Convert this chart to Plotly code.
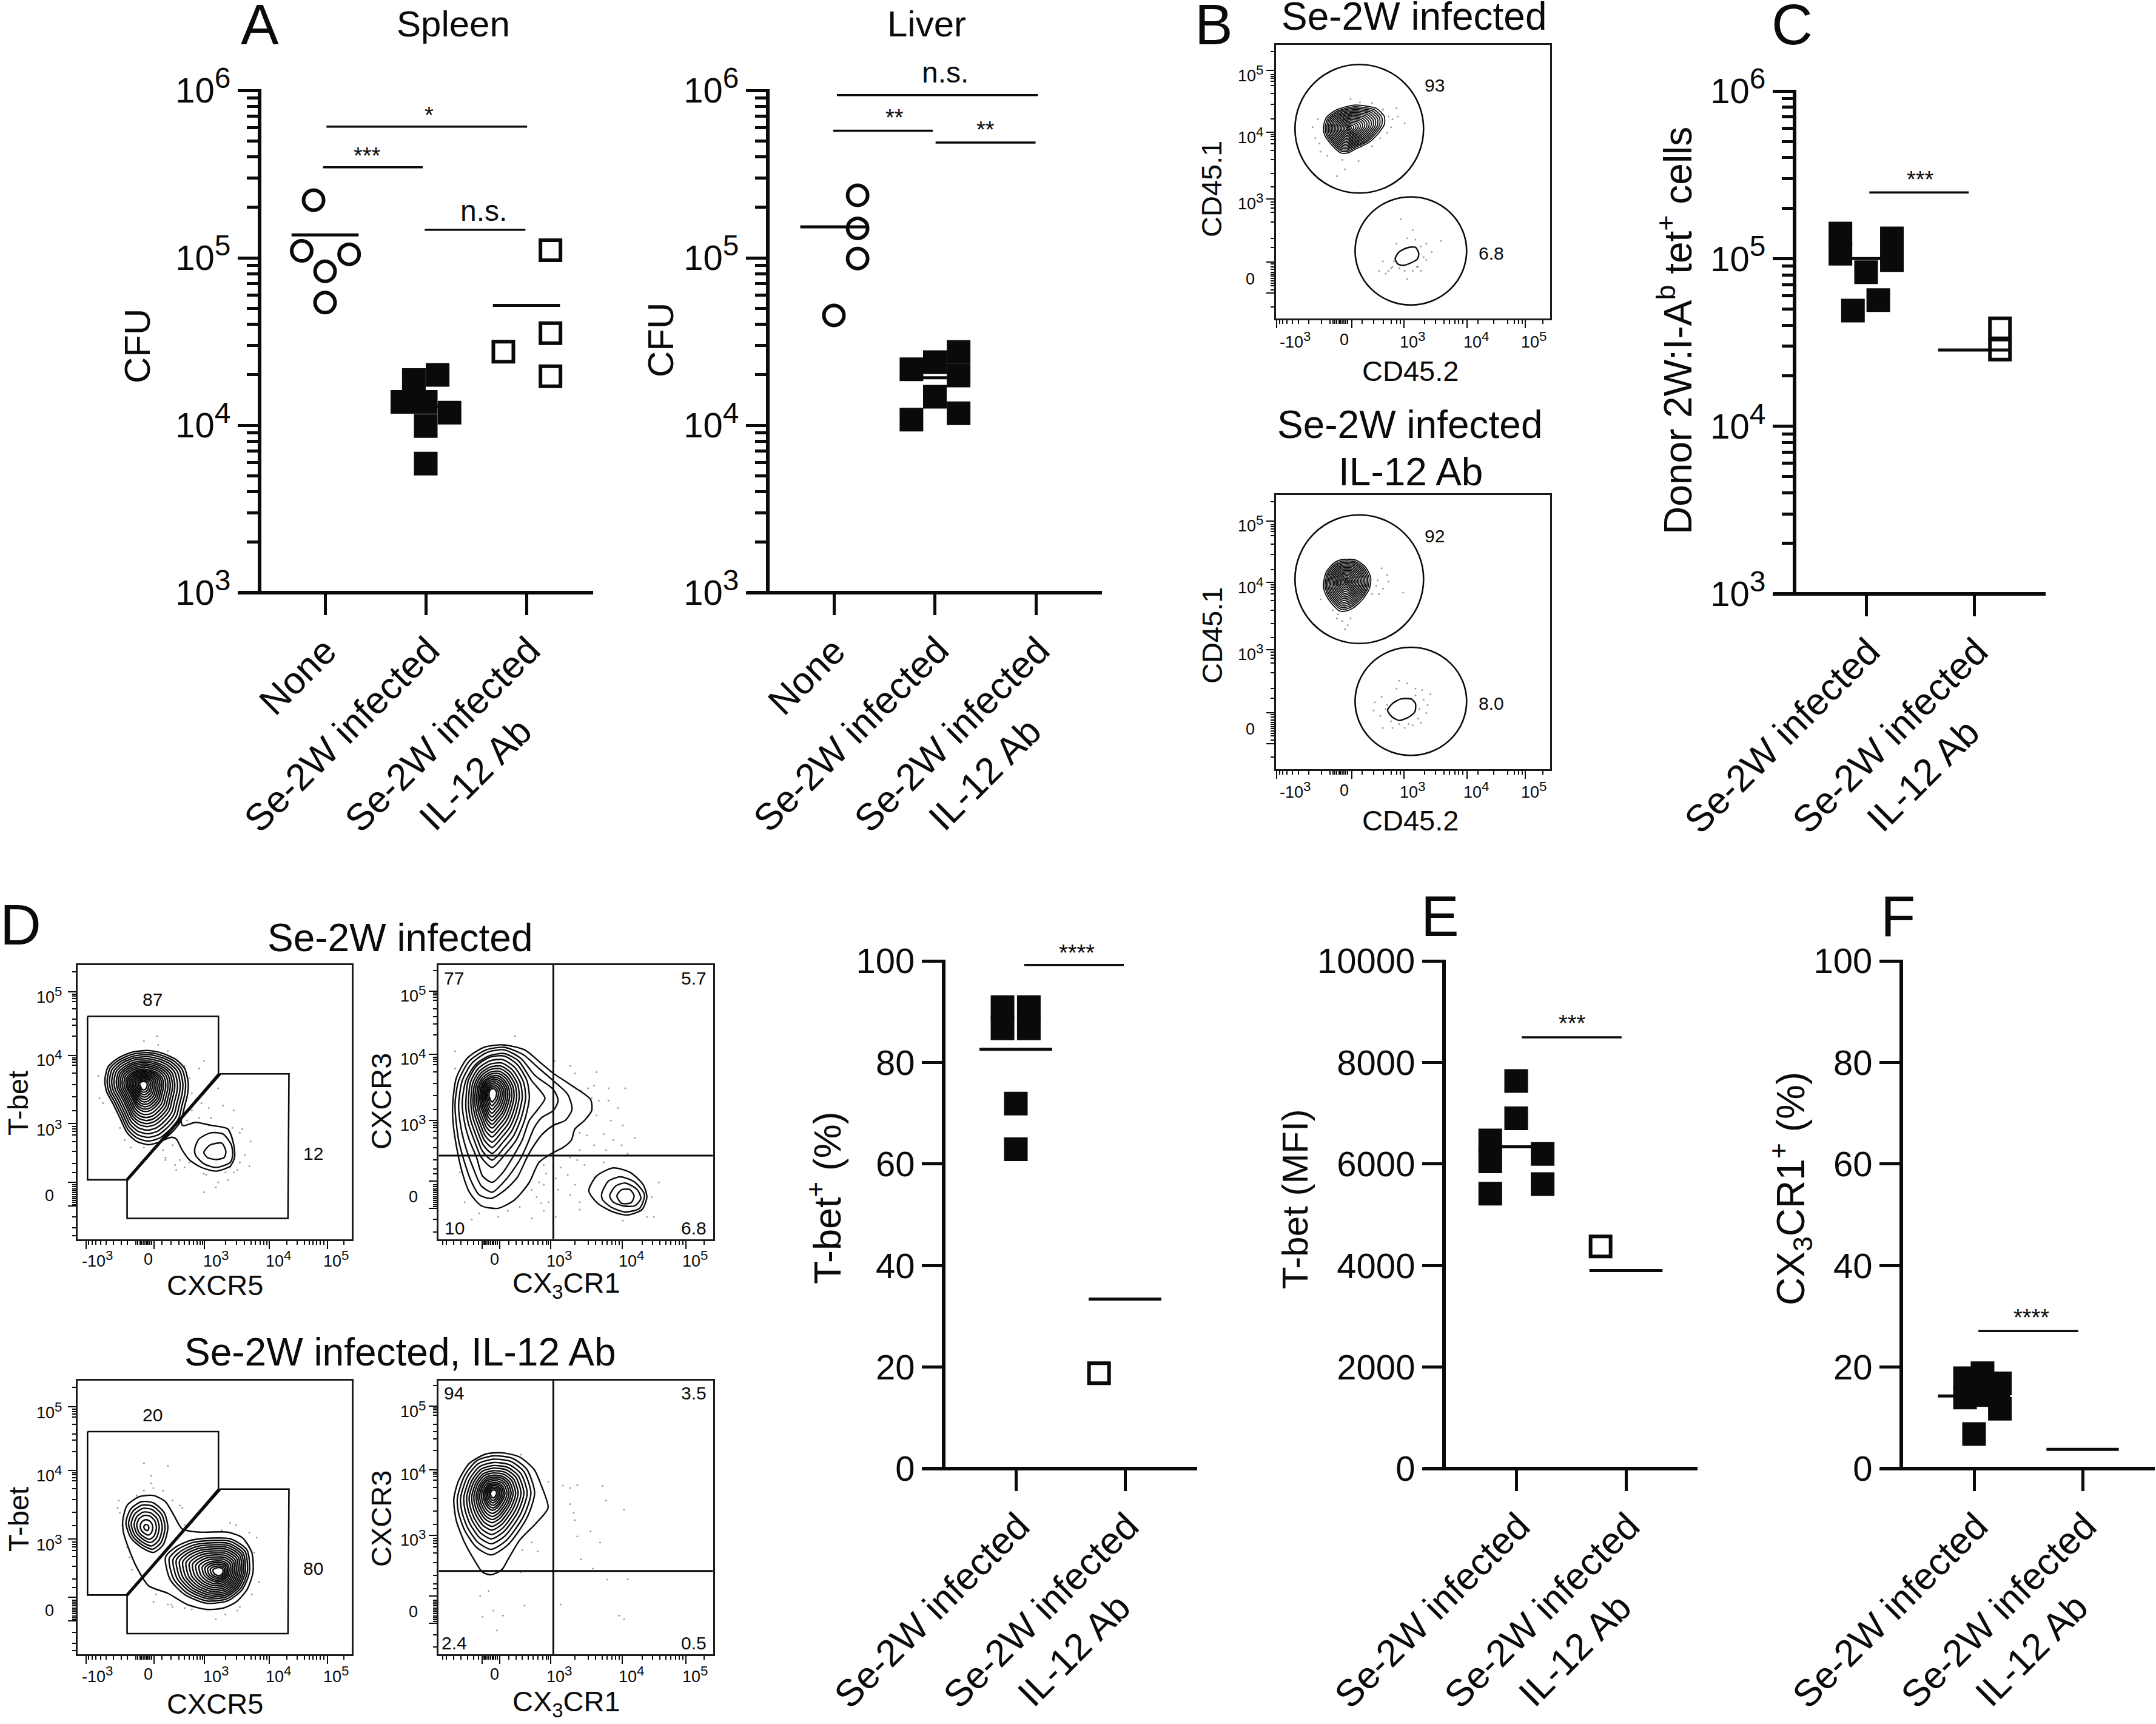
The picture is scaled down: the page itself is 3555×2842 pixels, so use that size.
import plotly.graph_objects as go

W, H = 3555, 2842
FONT = "Liberation Sans"


def SUP(s):
    return f'<sup><span style="font-size:118%">{s}</span></sup>'


# ---------- swarm panels: data (x = category index + read horizontal offset) ----------
SE = "Se-2W infected"
IL = "IL-12 Ab"

SPLEEN_NONE_X = [-0.114, -0.232, 0.239, 0, 0]
SPLEEN_NONE_Y = [2.21e5, 1.10e5, 1.05e5, 8.3e4, 5.4e4]
SPLEEN_SE_X = [0.882, 1.118, 0.768, 1, 1.236, 1, 1]
SPLEEN_SE_Y = [1.86e4, 2.0e4, 1.38e4, 1.38e4, 1.19e4, 9.9e3, 5.9e3]
SPLEEN_IL_X = [1.771, 2.239, 2.239, 2.239]
SPLEEN_IL_Y = [2.75e4, 1.11e5, 3.55e4, 1.96e4]
SPLEEN_MEANS = [1.37e5, 1.3e4, 5.2e4]
SPLEEN_BARS = [(0.014, 2.007, 6.08e5), (-0.02, 0.97, 3.47e5), (0.99, 1.99, 1.47e5)]

LIVER_NONE_X = [0.235, 0.235, 0.235, 0]
LIVER_NONE_Y = [2.36e5, 1.50e5, 9.9e4, 4.53e4]
LIVER_SE_X = [0.768, 1, 1.235, 1.235, 1, 1.235, 0.768]
LIVER_SE_Y = [2.16e4, 2.38e4, 2.74e4, 1.98e4, 1.48e4, 1.18e4, 1.08e4]
LIVER_MEANS = [1.53e5, 1.92e4]
LIVER_BARS = [(0.03, 2.02, 9.37e5), (-0.007, 0.98, 5.74e5), (1.007, 1.997, 4.88e5)]

C_SE_X = [-0.238, -0.238, 0.239, 0.239, 0, 0.113, -0.122]
C_SE_Y = [1.41e5, 1.07e5, 1.32e5, 9.8e4, 8.3e4, 5.65e4, 4.9e4]
C_IL_X = [1.24, 1.24]
C_IL_Y = [3.84e4, 2.87e4]
C_MEANS = [1.0e5, 2.85e4]
C_BARS = [(0.03, 0.95, 2.48e5)]

TBET_SE_X = [-0.122, 0.119, -0.122, 0.119, 0, 0]
TBET_SE_Y = [90.9, 90.9, 86.7, 86.7, 71.9, 62.9]
TBET_IL_X = [0.762]
TBET_IL_Y = [18.8]
TBET_MEANS = [82.6, 33.4]
TBET_BARS = [(0.076, 0.99, 99.2)]

MFI_SE_X = [-0.236, -0.236, -0.236, 0, 0, 0.241, 0.241]
MFI_SE_Y = [6465, 6050, 5416, 7634, 6901, 6198, 5604]
MFI_IL_X = [0.769]
MFI_IL_Y = [4376]
MFI_MEANS = [6337, 3901]
MFI_BARS = [(0.05, 0.96, 8495)]

CX_SE_X = [-0.083, -0.083, 0.078, 0.238, 0.238, 0, 0.078]
CX_SE_Y = [17.8, 14.0, 18.8, 16.8, 11.8, 6.8, 14.5]
CX_MEANS = [14.3, 3.8]
CX_BARS = [(0.04, 0.96, 27.1)]

LOG_TICKS = [1e3, 1e4, 1e5, 1e6]
LOG_TEXT = ["10" + SUP(3), "10" + SUP(4), "10" + SUP(5), "10" + SUP(6)]
LOG_MINOR = [2e3, 3e3, 4e3, 5e3, 6e3, 7e3, 8e3, 9e3, 2e4, 3e4, 4e4, 5e4, 6e4, 7e4, 8e4, 9e4,
             2e5, 3e5, 4e5, 5e5, 6e5, 7e5, 8e5, 9e5]
PCT_TICKS = [0, 20, 40, 60, 80, 100]
MFI_TICKS = [0, 2000, 4000, 6000, 8000, 10000]

# ---------- flow panels: values read in the channel units of each crop ----------
B_X_MAJOR = [348, 625, 818, 1050, 1265]
B_X_MINOR = [358, 370, 385, 405, 427, 465, 513, 545, 555, 563, 570, 577, 583, 590, 596, 603, 610, 662, 705, 742, 770, 790, 805,
             893, 935, 965, 985, 1005, 1020, 1035, 1090, 1150, 1200, 1225, 1240, 1255, 1330]
B_Y_MAJOR = [260, 488, 735, 968, 1083]
B_Y_MINOR = [190, 275, 282, 290, 300, 315, 345, 385, 440, 497, 505, 515, 530, 555, 590, 640, 690, 745, 755, 768, 785, 820, 880, 915,
             975, 985, 995, 1005, 1012, 1020, 1028, 1036, 1045, 1055, 1070, 1133]
D1_X_MAJOR = [358, 643, 853, 1122, 1365]
D1_X_MINOR = [370, 385, 400, 420, 443, 472, 505, 530, 567, 575, 583, 590, 597, 604, 611, 618, 625, 632, 675, 712, 745, 770, 790, 808, 822,
              835, 845, 940, 987, 1020, 1047, 1065, 1085, 1100, 1112, 1195, 1240, 1270, 1290, 1305, 1320, 1335, 1350, 1435]
D1_Y_MAJOR = [330, 587, 863, 1100, 1195]
D1_Y_MINOR = [250, 340, 348, 358, 370, 400, 440, 465, 510, 597, 605, 615, 628, 660, 705, 755, 810, 875, 885, 895, 910, 935, 975, 1025, 1060,
              1110, 1118, 1126, 1134, 1142, 1150, 1158, 1166, 1174, 1182, 1190, 1240, 1285, 1315]
D2_X_MAJOR = [493, 567, 780, 1078, 1342]
D2_X_MINOR = [330, 345, 375, 405, 432, 458, 478, 500, 507, 514, 521, 528, 535, 542, 549, 556, 605, 635, 660, 685, 705, 725, 745, 760, 770,
              880, 935, 965, 995, 1015, 1035, 1050, 1065, 1160, 1205, 1235, 1260, 1280, 1300, 1315, 1330, 1420]
D2_Y_MAJOR = [328, 584, 850, 1095, 1205]
D2_Y_MINOR = [245, 335, 342, 352, 365, 400, 430, 460, 505, 595, 602, 612, 625, 655, 700, 750, 805, 860, 870, 880, 895, 920, 960, 1010, 1045, 1065,
              1110, 1118, 1126, 1134, 1142, 1150, 1158, 1166, 1174, 1182, 1190, 1198, 1250, 1300]

TICK_TEXT_X = ["-10" + SUP(3), "0", "10" + SUP(3), "10" + SUP(4), "10" + SUP(5)]
TICK_TEXT_X2 = ["0", "10" + SUP(3), "10" + SUP(4), "10" + SUP(5)]
TICK_TEXT_Y = ["10" + SUP(5), "10" + SUP(4), "10" + SUP(3), "0"]

# outline of the outer contour, peak of the population and relative contour levels
B1_MAIN = [(520, 470), (530, 435), (560, 410), (600, 395), (640, 388), (680, 392), (715, 400), (745, 430), (745, 460), (725, 490),
           (690, 525), (640, 550), (610, 565), (585, 565), (555, 540), (525, 500)]
B1_PEAK = (612, 475)
B_LEVELS = [1, .93, .87, .81, .75, .69, .63, .57, .51, .45, .39, .33, .27, .21, .15, .09, .04]
B1_MINOR = [(785, 955), (800, 930), (830, 915), (860, 913), (872, 935), (868, 955), (845, 970), (815, 980), (795, 975)]
B1_DOTS = [(740, 405), (760, 430), (795, 430), (770, 470), (820, 455), (500, 440), (490, 510), (510, 560), (590, 590), (600, 625), (570, 650),
           (730, 510), (700, 540), (650, 595), (620, 365), (655, 378), (790, 400), (700, 380), (480, 470), (505, 530), (535, 575), (755, 490),
           (735, 420), (775, 440), (780, 965), (770, 990), (740, 965), (760, 1000), (790, 900), (830, 880), (860, 885), (900, 900), (920, 930),
           (890, 950), (870, 985), (830, 1030), (800, 990), (725, 1000), (880, 1000), (805, 810), (850, 850), (955, 890), (750, 1010), (820, 1000),
           (900, 960), (775, 985), (865, 985), (850, 1000), (880, 910)]
B2_MAIN = [(520, 640), (530, 590), (560, 555), (590, 543), (640, 545), (675, 570), (695, 610), (690, 650), (665, 690), (630, 722),
           (605, 733), (580, 733), (550, 705), (530, 675)]
B2_PEAK = (605, 625)
B2_MINOR = [(757, 1100), (775, 1075), (805, 1058), (845, 1058), (860, 1075), (858, 1105), (835, 1125), (800, 1137), (775, 1125)]
B2_DOTS = [(720, 620), (735, 575), (755, 600), (760, 625), (715, 640), (740, 650), (700, 670), (815, 665), (575, 745), (590, 770), (570, 760),
           (600, 800), (610, 785), (510, 690), (555, 730), (620, 760), (725, 670), (710, 1070), (705, 1100), (735, 1050), (750, 1095), (730, 1120),
           (775, 1165), (770, 1140), (800, 1150), (820, 1165), (850, 1155), (875, 1095), (890, 1060), (905, 1080), (885, 1025), (860, 1020),
           (830, 1000), (800, 990), (790, 1020), (900, 1110), (870, 1130), (835, 1150), (740, 1165), (880, 1145), (755, 1080), (915, 1040), (860, 1045)]

GATE_T = [(365, 430), (911, 430), (911, 662), (530, 1090), (365, 1090), (365, 430)]
GATE_CXCR5 = [(917, 662), (1205, 662), (1201, 1246), (530, 1246), (530, 1090)]
GATE_DIAG = [(530, 1090), (917, 662)]

D1T_MAIN = [(437, 690), (450, 635), (490, 600), (550, 575), (620, 568), (680, 580), (735, 605), (770, 640), (785, 700), (782, 745), (768, 800),
            (755, 850), (720, 895), (670, 935), (620, 948), (570, 935), (530, 900), (500, 840), (470, 780), (445, 735)]
D1T_PEAK = (597, 705)
D1T_LEVELS = [1, .94, .88, .82, .76, .7, .65, .6, .55, .5, .45, .41, .37, .33, .29, .25, .21, .17, .13, .09]
D1T_RINGS = [
    [(755, 850), (760, 870), (775, 870), (815, 858), (880, 870), (950, 885), (975, 950), (978, 1000), (960, 1035), (900, 1055), (840, 1040),
     (790, 1010), (760, 970), (735, 925), (715, 918), (670, 935)],
    [(812, 965), (830, 925), (880, 900), (930, 905), (965, 950), (970, 990), (960, 1020), (900, 1040), (850, 1025), (815, 990), (812, 965)],
    [(850, 980), (875, 950), (925, 942), (942, 975), (935, 1000), (900, 1008), (865, 1000), (850, 980)],
]
D1T_DOTS = [(660, 545), (655, 510), (600, 530), (700, 570), (770, 630), (790, 680), (800, 740), (830, 640), (850, 610), (410, 670), (415, 760),
            (430, 780), (500, 880), (520, 930), (545, 960), (600, 960), (690, 1000), (680, 970), (720, 950), (690, 1010), (735, 1050), (750, 1010),
            (790, 1020), (850, 1065), (860, 1070), (940, 1060), (990, 1050), (1000, 1020), (1020, 990), (1000, 900), (970, 880), (975, 810),
            (880, 840), (840, 780), (870, 800), (930, 790), (800, 810), (830, 840), (780, 850), (910, 720), (850, 1140), (900, 1120), (950, 1090),
            (910, 1100), (1040, 1035), (1045, 935), (1010, 885), (730, 1030), (770, 1040), (960, 1040), (975, 1060)]

D2T_OUTER_RINGS = [
    [(370, 790), (385, 680), (430, 600), (500, 555), (580, 545), (670, 565), (740, 620), (790, 660), (860, 705), (945, 765), (950, 810),
     (920, 850), (880, 885), (865, 930), (830, 960), (780, 985), (730, 1020), (690, 1100), (630, 1170), (560, 1205), (490, 1195), (440, 1140),
     (410, 1060), (385, 950), (372, 860)],
    [(380, 790), (395, 690), (440, 610), (510, 565), (585, 555), (665, 585), (730, 640), (790, 690), (850, 745), (868, 805), (840, 850), (790, 870),
     (745, 905), (710, 950), (680, 1000), (640, 1080), (590, 1130), (530, 1165), (480, 1150), (445, 1090), (420, 1020), (395, 930)],
    [(395, 790), (410, 690), (450, 620), (515, 575), (585, 565), (655, 600), (715, 670), (790, 725), (810, 770), (790, 810), (740, 840), (710, 880),
     (680, 950), (650, 1010), (600, 1080), (535, 1140), (490, 1115), (455, 1040), (425, 960), (405, 880)],
    [(410, 780), (425, 690), (465, 625), (520, 590), (585, 580), (645, 610), (700, 690), (755, 760), (730, 800), (690, 850), (660, 930), (620, 1000),
     (580, 1060), (535, 1100), (495, 1075), (470, 1000), (440, 930), (420, 860)],
]
D2T_INNER = [(425, 790), (435, 690), (470, 630), (525, 595), (585, 590), (640, 625), (680, 690), (690, 760), (670, 850), (635, 930), (590, 985), (535, 1040),
             (490, 1000), (460, 930), (435, 860)]
D2T_PEAK = (535, 740)
D2T_LEVELS = [1, .9, .81, .73, .66, .59, .53, .47, .42, .37, .32, .27, .22, .17, .12]
D2T_RINGS = [
    [(938, 1135), (970, 1075), (1040, 1042), (1110, 1060), (1165, 1110), (1180, 1160), (1160, 1210), (1100, 1232), (1040, 1220), (975, 1185), (938, 1135)],
    [(992, 1145), (1020, 1095), (1070, 1078), (1130, 1100), (1170, 1150), (1150, 1205), (1090, 1220), (1030, 1200), (995, 1170), (992, 1145)],
    [(1025, 1155), (1050, 1115), (1090, 1103), (1140, 1130), (1155, 1165), (1130, 1195), (1080, 1195), (1040, 1180), (1025, 1155)],
    [(1055, 1155), (1075, 1130), (1110, 1130), (1127, 1155), (1115, 1182), (1075, 1185), (1055, 1155)],
]
D2T_DOTS = [(795, 610), (860, 630), (880, 660), (970, 655), (960, 710), (1020, 720), (1090, 720), (905, 730), (935, 720), (950, 760), (980, 770),
            (1020, 770), (970, 830), (1030, 850), (1060, 800), (1080, 870), (900, 900), (930, 910), (1000, 905), (1040, 930), (1130, 920), (1075, 950),
            (900, 970), (960, 950), (1010, 970), (1100, 985), (860, 1000), (890, 1010), (920, 1030), (820, 1040), (790, 1040), (750, 1030), (760, 1065),
            (800, 1085), (850, 1070), (730, 1100), (700, 1130), (720, 1160), (770, 1180), (750, 1215), (810, 1130), (860, 1150), (900, 1180), (880, 1110),
            (900, 1210), (650, 1200), (600, 1215), (480, 1225), (420, 1180), (400, 1060), (380, 640), (380, 570), (630, 510), (1200, 1160), (1230, 1100),
            (1210, 1240), (1000, 1020), (960, 1080), (1180, 1240), (800, 1240), (700, 1245), (560, 1240), (450, 1250), (1080, 1255), (750, 1110), (740, 1185)]

D1B_OUTER = [(512, 750), (530, 690), (580, 655), (640, 650), (690, 675), (725, 730), (760, 785), (830, 798), (950, 798), (1010, 820), (1050, 880),
             (1055, 960), (1030, 1030), (985, 1080), (930, 1105), (860, 1110), (780, 1090), (700, 1045), (620, 1015), (570, 940), (535, 860), (515, 800)]
D1B_LEFT = [(525, 760), (545, 705), (590, 675), (640, 680), (685, 720), (700, 780), (680, 850), (640, 880), (590, 860), (545, 820)]
D1B_LEFT_PEAK = (610, 780)
D1B_LEFT_LEVELS = [1, .87, .74, .6, .47, .3, .12]
D1B_RIGHT = [(690, 900), (730, 860), (800, 830), (960, 825), (1030, 870), (1040, 960), (1010, 1030), (950, 1075), (860, 1085), (770, 1050), (710, 990)]
D1B_RIGHT_PEAK = (915, 958)
D1B_RIGHT_LEVELS = [1, .93, .86, .8, .74, .68, .62, .56, .5, .44, .38, .32, .27, .22, .17, .12]
D1B_DOTS = [(490, 700), (495, 670), (510, 770), (500, 720), (570, 650), (600, 630), (630, 600), (640, 620), (680, 630), (720, 670), (760, 700),
            (770, 770), (800, 760), (960, 760), (985, 770), (925, 790), (1040, 800), (1070, 820), (1060, 880), (1080, 1000), (1050, 1050), (1000, 1100),
            (990, 1115), (940, 1130), (900, 1150), (800, 1110), (770, 1105), (700, 1090), (650, 1050), (640, 1080), (580, 1000), (540, 900), (530, 860),
            (550, 950), (715, 1090), (720, 1100), (600, 520), (630, 570), (700, 530), (750, 690)]

D2B_OUTER = [(375, 665), (395, 590), (440, 520), (510, 482), (580, 478), (650, 495), (710, 545), (740, 610), (768, 700), (720, 760), (650, 830),
             (600, 910), (575, 950), (530, 970), (495, 960), (460, 910), (420, 840), (385, 750)]
D2B_MAIN = [(390, 660), (420, 570), (470, 510), (540, 490), (620, 500), (680, 545), (712, 640), (680, 740), (600, 850), (530, 890), (470, 860),
            (420, 790), (395, 720)]
D2B_PEAK = (540, 640)
D2B_LEVELS = [1, .91, .82, .74, .67, .6, .54, .48, .43, .38, .33, .28, .24, .2, .16, .12, .08]
D2B_DOTS = [(655, 485), (770, 595), (830, 610), (890, 608), (860, 620), (995, 612), (860, 685), (875, 720), (880, 750), (890, 815), (945, 795), (985, 840),
            (660, 870), (700, 840), (725, 875), (1085, 707), (1010, 670), (905, 908), (955, 945), (1015, 990), (1100, 988), (655, 960), (520, 1035), (485, 1055),
            (540, 1115), (495, 1140), (580, 1135), (670, 1095), (820, 1090), (1065, 1135), (1085, 1150), (555, 1195)]

# ---------- helpers ----------
fig = go.Figure()
annotations, shapes = [], []
BLACK = "#0a0a0a"


def T(x, y, text, size, angle=0):
    annotations.append(dict(x=x / W, y=1 - y / H, xref="paper", yref="paper", text=text, showarrow=False,
                            xanchor="center", yanchor="middle", align="center", textangle=angle,
                            font=dict(family=FONT, size=size, color=BLACK), borderpad=0, borderwidth=0))


def paper_line(x0, y0, x1, y1, w):
    shapes.append(dict(type="line", xref="paper", yref="paper", x0=x0 / W, x1=x1 / W, y0=1 - y0 / H, y1=1 - y1 / H,
                       line=dict(color=BLACK, width=w), layer="above"))


def axes(i, xa, ya):
    xa["automargin"] = False
    ya["automargin"] = False
    fig.layout[f"xaxis{i}"] = xa
    fig.layout[f"yaxis{i}"] = ya


def swarm(i, left, right, top, bottom, t0, dt, ycfg, means, bars, groups, labels):
    xr = [(left - t0) / dt, (right - t0) / dt]
    xa = dict(domain=[left / W, right / W], range=xr, anchor=f"y{i}", showgrid=False, zeroline=False, showline=False,
              tickmode="array", tickvals=list(range(len(labels))), showticklabels=False, ticks="outside", ticklen=36,
              tickwidth=5, tickcolor=BLACK)
    ya = dict(domain=[1 - bottom / H, 1 - top / H], anchor=f"x{i}", showgrid=False, zeroline=False, showline=False,
              tickmode="array", tickvals=ycfg["ticks"], ticktext=ycfg["text"], ticks="outside", ticklen=35, tickwidth=5,
              tickcolor=BLACK, tickfont=dict(family=FONT, size=58, color=BLACK), type=ycfg["type"], range=ycfg["range"])
    if ycfg.get("minor"):
        ya["minor"] = dict(tickmode="array", tickvals=ycfg["minor"], ticks="outside", ticklen=20, tickwidth=5, tickcolor=BLACK)
    axes(i, xa, ya)
    paper_line(left, top - 2, left, bottom + 3, 6)
    paper_line(left - 35, bottom, right, bottom, 6)
    for xs, ys, symbol in groups:
        opened = "open" in symbol
        fig.add_trace(go.Scatter(x=xs, y=ys, mode="markers", xaxis=f"x{i}", yaxis=f"y{i}", cliponaxis=False, showlegend=False,
                                 marker=dict(symbol=symbol, size=33 if opened else 39, color=BLACK,
                                             line=dict(width=6 if opened else 0, color=BLACK))))
    for k, m in enumerate(means):
        fig.add_trace(go.Scatter(x=[k - 0.333, k + 0.333], y=[m, m], mode="lines", xaxis=f"x{i}", yaxis=f"y{i}", cliponaxis=False,
                                 showlegend=False, line=dict(color=BLACK, width=5)))
    for x0, x1, y in bars:
        fig.add_trace(go.Scatter(x=[x0, x1], y=[y, y], mode="lines", xaxis=f"x{i}", yaxis=f"y{i}", cliponaxis=False,
                                 showlegend=False, line=dict(color=BLACK, width=3.5)))
    for k, lab in enumerate(labels):
        xt = t0 + k * dt
        if lab == "None":
            T(xt - 45, bottom + 138, lab, 62, -45)
        else:
            T(xt - 139, bottom + 233, SE, 62, -45)
            if lab == "IL":
                T(xt - 85, bottom + 299, IL, 62, -45)


def ring(poly, peak, lev):
    xs, ys = [], []
    for l in lev:
        for p in list(poly) + [poly[0]]:
            xs.append(peak[0] + l * (p[0] - peak[0]))
            ys.append(peak[1] + l * (p[1] - peak[1]))
        xs.append(None)
        ys.append(None)
    return xs, ys


def curve(i, xs, ys, width=2.4):
    fig.add_trace(go.Scatter(x=xs, y=ys, mode="lines", xaxis=f"x{i}", yaxis=f"y{i}", showlegend=False,
                             line=dict(color=BLACK, width=width, shape="spline", smoothing=0.7)))


def straight(i, pts, width=2.6, dy=0):
    fig.add_trace(go.Scatter(x=[p[0] for p in pts], y=[p[1] + dy for p in pts], mode="lines", xaxis=f"x{i}", yaxis=f"y{i}",
                             showlegend=False, line=dict(color=BLACK, width=width)))


def flow(i, crop, box, xmaj, xmin, ymaj, ymin, dots, dy=0):
    ox, oy, sx, sy = crop
    x0, x1, y0, y1 = box
    xa = dict(domain=[(ox + x0 / sx) / W, (ox + x1 / sx) / W], range=[x0, x1], anchor=f"y{i}", showgrid=False, zeroline=False,
              showline=True, mirror=True, linewidth=3, linecolor="#1a1a1a", tickmode="array", tickvals=xmaj, showticklabels=False,
              ticks="outside", ticklen=13, tickwidth=2, tickcolor=BLACK,
              minor=dict(tickmode="array", tickvals=xmin, ticks="outside", ticklen=6, tickwidth=2, tickcolor=BLACK))
    ya = dict(domain=[1 - (oy + y1 / sy) / H, 1 - (oy + y0 / sy) / H], range=[y1, y0], anchor=f"x{i}", showgrid=False, zeroline=False,
              showline=True, mirror=True, linewidth=3, linecolor="#1a1a1a", tickmode="array",
              tickvals=[v + dy for v in ymaj], showticklabels=False, ticks="outside", ticklen=13, tickwidth=2, tickcolor=BLACK,
              minor=dict(tickmode="array", tickvals=[v + dy for v in ymin], ticks="outside", ticklen=6, tickwidth=2, tickcolor=BLACK))
    axes(i, xa, ya)
    fig.add_trace(go.Scatter(x=[d[0] for d in dots], y=[d[1] for d in dots], mode="markers", xaxis=f"x{i}", yaxis=f"y{i}",
                             showlegend=False, marker=dict(size=3, color="#666666", opacity=0.65, line=dict(width=0))))


def flow_text(crop, items, size):
    ox, oy, sx, sy = crop
    for x, y, s in items:
        T(ox + x / sx, oy + y / sy, s, size)


def circle_gate(i, x0, x1, y0, y1):
    shapes.append(dict(type="circle", xref=f"x{i}", yref=f"y{i}", x0=x0, x1=x1, y0=y0, y1=y1, line=dict(color=BLACK, width=2.6)))


# ---------- swarm panels ----------
LOG_CFG = dict(ticks=LOG_TICKS, text=LOG_TEXT, minor=LOG_MINOR, type="log", range=[3, 6])
PCT_CFG = dict(ticks=PCT_TICKS, text=[str(v) for v in PCT_TICKS], type="linear", range=[0, 100])
MFI_CFG = dict(ticks=MFI_TICKS, text=[str(v) for v in MFI_TICKS], type="linear", range=[0, 10000])

swarm(1, 428, 978, 149, 977, 536, 166, LOG_CFG, SPLEEN_MEANS, SPLEEN_BARS,
      [(SPLEEN_NONE_X, SPLEEN_NONE_Y, "circle-open"), (SPLEEN_SE_X, SPLEEN_SE_Y, "square"), (SPLEEN_IL_X, SPLEEN_IL_Y, "square-open")],
      ["None", "SE", "IL"])
swarm(2, 1266, 1817, 149, 977, 1375, 166.5, LOG_CFG, LIVER_MEANS, LIVER_BARS,
      [(LIVER_NONE_X, LIVER_NONE_Y, "circle-open"), (LIVER_SE_X, LIVER_SE_Y, "square")],
      ["None", "SE", "IL"])
swarm(3, 2959, 3373, 150, 979, 3077, 178, LOG_CFG, C_MEANS, C_BARS,
      [(C_SE_X, C_SE_Y, "square"), (C_IL_X, C_IL_Y, "square-open")], ["SE", "IL"])
swarm(4, 1556, 1974, 1584, 2421, 1675, 180, PCT_CFG, TBET_MEANS, TBET_BARS,
      [(TBET_SE_X, TBET_SE_Y, "square"), (TBET_IL_X, TBET_IL_Y, "square-open")], ["SE", "IL"])
swarm(5, 2381, 2799, 1584, 2421, 2500, 181, MFI_CFG, MFI_MEANS, MFI_BARS,
      [(MFI_SE_X, MFI_SE_Y, "square"), (MFI_IL_X, MFI_IL_Y, "square-open")], ["SE", "IL"])
swarm(6, 3135, 3553, 1584, 2421, 3255, 179, PCT_CFG, CX_MEANS, CX_BARS,
      [(CX_SE_X, CX_SE_Y, "square")], ["SE", "IL"])

# ---------- flow panels ----------
CB1 = (1950, 0, 2.24, 2.24)
CB2 = (1950, 680, 2.24, 2.24)
CD1T = (0, 1500, 2.529, 2.45)
CD2T = (600, 1500, 2.529, 2.45)
CD1B = (0, 2200, 2.529, 2.45)
CD2B = (600, 2200, 2.529, 2.45)

# B top
flow(7, CB1, (345, 1357, 165, 1176), B_X_MAJOR, B_X_MINOR, B_Y_MAJOR, B_Y_MINOR, B1_DOTS)
curve(7, *ring(B1_MAIN, B1_PEAK, B_LEVELS), width=1.8)
curve(7, *ring(B1_MINOR, (830, 945), [1]))
circle_gate(7, 415, 890, 238, 713)
circle_gate(7, 637, 1049, 727, 1126)
# B bottom
flow(8, CB2, (345, 1357, 305, 1316), B_X_MAJOR, B_X_MINOR, B_Y_MAJOR, B_Y_MINOR, B2_DOTS, dy=140)
curve(8, *ring(B2_MAIN, B2_PEAK, B_LEVELS), width=1.8)
curve(8, *ring(B2_MINOR, (810, 1095), [1]))
circle_gate(8, 415, 890, 378, 853)
circle_gate(8, 637, 1049, 867, 1266)
# D top left
flow(9, CD1T, (323, 1467, 222, 1330), D1_X_MAJOR, D1_X_MINOR, D1_Y_MAJOR, D1_Y_MINOR, D1T_DOTS)
curve(9, *ring(D1T_MAIN, D1T_PEAK, D1T_LEVELS))
for r in D1T_RINGS:
    curve(9, [p[0] for p in r], [p[1] for p in r])
straight(9, GATE_T)
straight(9, GATE_CXCR5)
straight(9, GATE_DIAG, 5)
# D top right
flow(10, CD2T, (312, 1456, 222, 1330), D2_X_MAJOR, D2_X_MINOR, D2_Y_MAJOR, D2_Y_MINOR, D2T_DOTS)
for r in D2T_OUTER_RINGS:
    curve(10, *ring(r, D2T_PEAK, [1]))
curve(10, *ring(D2T_INNER, D2T_PEAK, D2T_LEVELS))
for r in D2T_RINGS:
    curve(10, [p[0] for p in r], [p[1] for p in r])
straight(10, [(790, 222), (790, 1330)], 3)
straight(10, [(312, 992), (1456, 992)], 3)
# D bottom left
flow(11, CD1B, (323, 1467, 185, 1292), D1_X_MAJOR, D1_X_MINOR, D1_Y_MAJOR, D1_Y_MINOR, D1B_DOTS, dy=-38)
curve(11, *ring(D1B_OUTER, (800, 880), [1]))
curve(11, *ring(D1B_LEFT, D1B_LEFT_PEAK, D1B_LEFT_LEVELS))
curve(11, *ring(D1B_RIGHT, D1B_RIGHT_PEAK, D1B_RIGHT_LEVELS))
straight(11, GATE_T, dy=-38)
straight(11, GATE_CXCR5, dy=-38)
straight(11, GATE_DIAG, 5, dy=-38)
# D bottom right
flow(12, CD2B, (312, 1456, 185, 1292), D2_X_MAJOR, D2_X_MINOR, D2_Y_MAJOR, D2_Y_MINOR, D2B_DOTS, dy=-38)
curve(12, *ring(D2B_OUTER, D2B_PEAK, [1]))
curve(12, *ring(D2B_MAIN, D2B_PEAK, D2B_LEVELS))
straight(12, [(790, 185), (790, 1292)], 3)
straight(12, [(312, 955), (1456, 955)], 3)

# flow tick labels and gate frequencies
B_TICK_POS_Y = [272, 500, 745, 1030]
B_TICK_POS_X = [415, 598, 850, 1085, 1298]
for crop, dy, a, b in [(CB1, 0, "93", "6.8"), (CB2, 140, "92", "8.0")]:
    flow_text(crop, [(250, p + dy, s) for p, s in zip(B_TICK_POS_Y, TICK_TEXT_Y)], 27)
    flow_text(crop, [(p, 1255 + dy, s) for p, s in zip(B_TICK_POS_X, TICK_TEXT_X)], 27)
    flow_text(crop, [(931, 315 + dy, a), (1140, 935 + dy, b)], 30)

D1_POS_Y = [345, 600, 880, 1153]
D1_POS_X = [405, 618, 900, 1160, 1400]
D2_POS_Y = [340, 595, 860, 1158]
D2_POS_X = [545, 815, 1115, 1380]
for c1, c2, dy, g, q in [(CD1T, CD2T, 0, ("87", "12"), ("77", "5.7", "10", "6.8")),
                         (CD1B, CD2B, -38, ("20", "80"), ("94", "3.5", "2.4", "0.5"))]:
    flow_text(c1, [(205, p + dy, s) for p, s in zip(D1_POS_Y, TICK_TEXT_Y)], 27)
    flow_text(c1, [(p, 1410 + dy, s) for p, s in zip(D1_POS_X, TICK_TEXT_X)], 27)
    flow_text(c1, [(637, 362 + dy, g[0]), (1307, 983 + dy, g[1])], 30)
    flow_text(c2, [(205, p + dy, s) for p, s in zip(D2_POS_Y, TICK_TEXT_Y)], 27)
    flow_text(c2, [(p, 1410 + dy, s) for p, s in zip(D2_POS_X, TICK_TEXT_X2)], 27)
    flow_text(c2, [(375, 275 + dy, q[0]), (1375, 275 + dy, q[1]), (378, 1285 + dy, q[2]), (1375, 1285 + dy, q[3])], 30)

# ---------- titles ----------
for x, y, s in [(428, 40, "A"), (2002, 40, "B"), (2955, 40, "C"), (34, 1524, "D"), (2374, 1510, "E"), (3129, 1510, "F")]:
    T(x, y, s, 94)
for x, y, s in [(747, 39, "Spleen"), (1528, 39, "Liver")]:
    T(x, y, s, 60)
for x, y, s in [(2332, 27, SE), (2325, 700, SE), (2326, 778, IL), (660, 1546, SE), (660, 2229, SE + ", " + IL)]:
    T(x, y, s, 64)
for x, y, s in [(2325, 612, "CD45.2"), (2325, 1352, "CD45.2"), (354, 2118, "CXCR5"), (354, 2808, "CXCR5"),
                (934, 2118, "CX<sub>3</sub>CR1"), (934, 2808, "CX<sub>3</sub>CR1")]:
    T(x, y, s, 47)
for x, y, s in [(1998, 312, "CD45.1"), (1998, 1048, "CD45.1"), (30, 1818, "T-bet"), (30, 2504, "T-bet"),
                (628, 1816, "CXCR3"), (628, 2504, "CXCR3")]:
    T(x, y, s, 47, -90)
for x, y, s in [(226, 570, "CFU"), (1089, 561, "CFU"), (2135, 1977, "T-bet (MFI)")]:
    T(x, y, s, 60, -90)
T(1360, 1975, "T-bet<sup>+</sup> (%)", 63, -90)
T(2952, 1960, "CX<sub>3</sub>CR1<sup>+</sup> (%)", 64, -90)
T(2762, 545, "Donor 2W:I-A<sup>b</sup> tet<sup>+</sup> cells", 64, -90)

for x, y, s in [(707, 190, "*"), (605, 257, "***"), (1475, 194, "**"), (1625, 214, "**"), (3166, 296, "***"),
                (1775, 1571, "****"), (2592, 1687, "***"), (3349, 2172, "****")]:
    T(x, y, s, 38)
for x, y, s in [(797, 347, "n.s."), (1558, 119, "n.s.")]:
    T(x, y, s, 48)

fig.update_layout(template="none", width=W, height=H, autosize=False, margin=dict(l=0, r=0, t=0, b=0, autoexpand=False), paper_bgcolor="white",
                  plot_bgcolor="rgba(0,0,0,0)", showlegend=False, annotations=annotations, shapes=shapes, font=dict(family=FONT, color=BLACK))
fig.write_html("out.html", config=dict(displayModeBar=False), post_script="document.body.style.margin='0';")
